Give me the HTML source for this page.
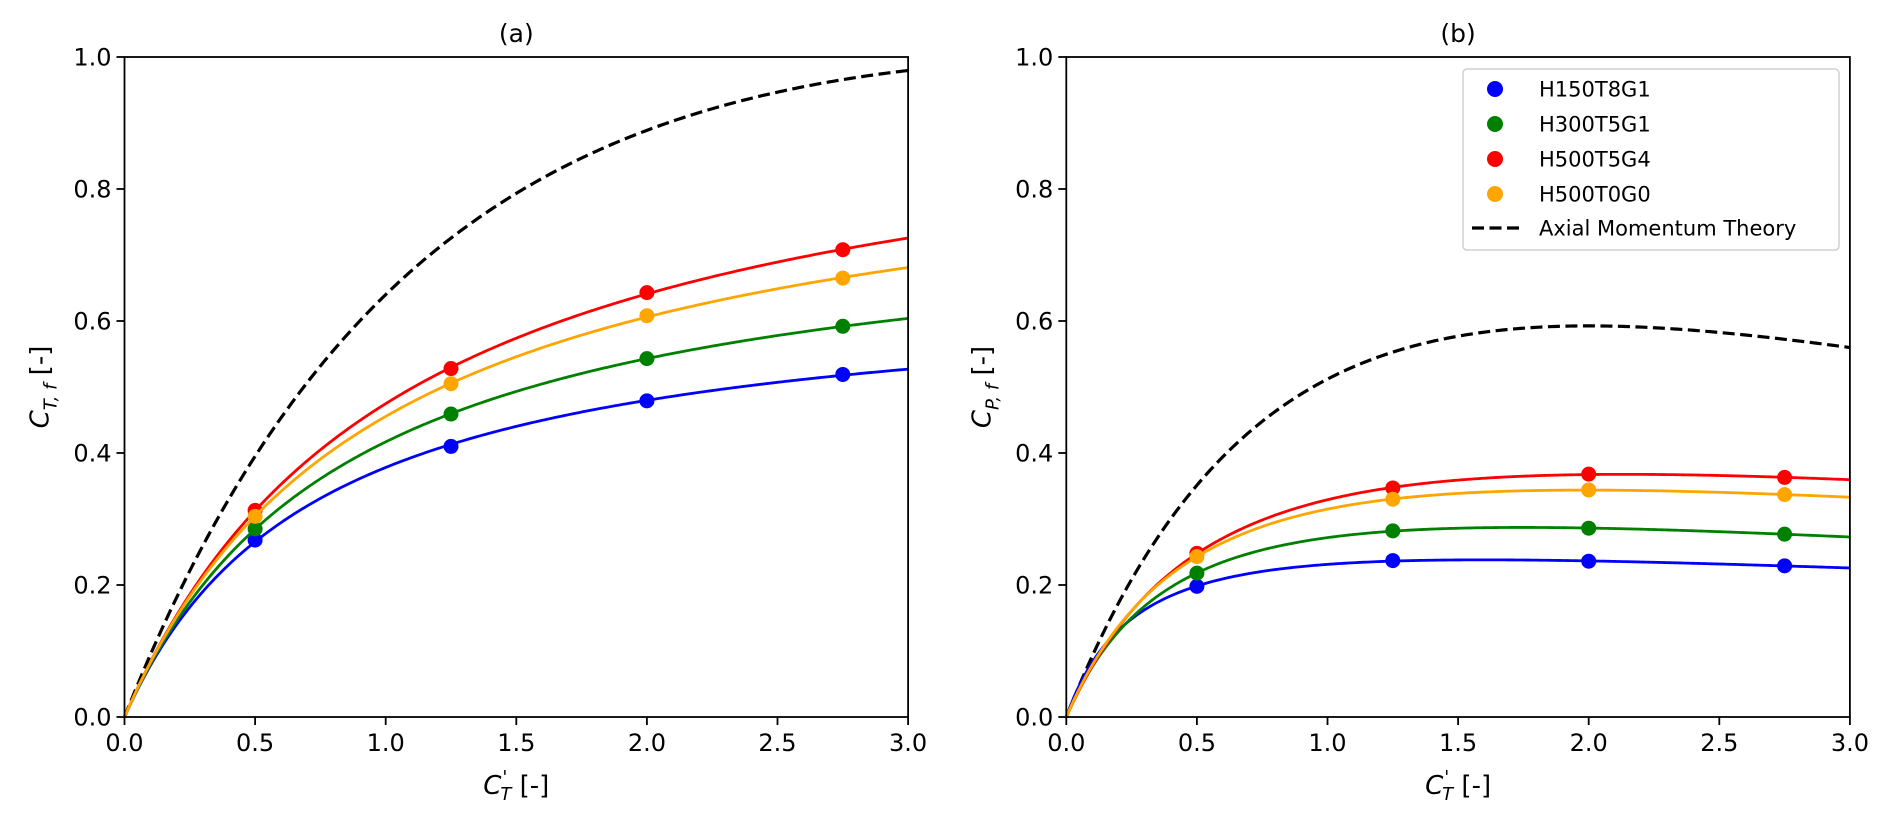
<!DOCTYPE html>
<html><head><meta charset="utf-8">
<style>
html,body{margin:0;padding:0;background:#fff;}
svg{display:block;font-family:"DejaVu Sans","Liberation Sans",sans-serif;}
</style></head>
<body>
<svg id="fig" width="1892" height="823" viewBox="0 0 1892 823" xmlns="http://www.w3.org/2000/svg"></svg>
<script>
const xs = [0.5, 1.25, 2.0, 2.75];
const seriesNames = ["H150T8G1","H300T5G1","H500T5G4","H500T0G0"];
const seriesColors = ["#0000ff","#008000","#ff0000","#ffa500"];
const ctBlue = [0.268, 0.410, 0.479, 0.519];
const ctGreen = [0.285, 0.459, 0.543, 0.592];
const ctRed = [0.313, 0.528, 0.643, 0.708];
const ctOrange = [0.304, 0.505, 0.608, 0.665];
const cpBlue = [0.198, 0.237, 0.236, 0.229];
const cpGreen = [0.218, 0.282, 0.286, 0.277];
const cpRed = [0.248, 0.347, 0.368, 0.363];
const cpOrange = [0.243, 0.330, 0.344, 0.337];
const xTicks = [0.0, 0.5, 1.0, 1.5, 2.0, 2.5, 3.0];
const yTicks = [0.0, 0.2, 0.4, 0.6, 0.8, 1.0];

const svg = document.getElementById('fig');
const NS = "http://www.w3.org/2000/svg";
function mk(tag, attrs, parent){const e=document.createElementNS(NS,tag);for(const k in attrs)e.setAttribute(k,attrs[k]);(parent||svg).appendChild(e);return e;}

function fit(ys, quad){
  const n = quad?3:2; const M=[],v=[];
  for(let i=0;i<n;i++){M.push(new Array(n).fill(0));v.push(0);}
  xs.forEach((x,k)=>{const t=x/ys[k];const b=[1,x,x*x].slice(0,n);
    for(let i=0;i<n;i++){v[i]+=b[i]*t;for(let j=0;j<n;j++)M[i][j]+=b[i]*b[j];}});
  for(let i=0;i<n;i++){for(let r=i+1;r<n;r++){const f=M[r][i]/M[i][i];for(let c=i;c<n;c++)M[r][c]-=f*M[i][c];v[r]-=f*v[i];}}
  const p=new Array(n).fill(0);
  for(let i=n-1;i>=0;i--){let s=v[i];for(let c=i+1;c<n;c++)s-=M[i][c]*p[c];p[i]=s/M[i][i];}
  return x=>x/(p[0]+p[1]*x+(n>2?p[2]*x*x:0));
}

function panel(left, title, ylabelMain, ylabelSub, data, quad, theory, legend, key){
  const right=left+783.6, top=57, bottom=717;
  const X=v=>left+(v/3)*(right-left);
  const Y=v=>bottom-v*(bottom-top);
  const g=mk('g',{});
  
  
  xTicks.forEach(t=>{
    const l=mk('line',{x1:X(t),x2:X(t),y1:bottom,y2:bottom+8,stroke:'#000','stroke-width':1.8},g);
    
    const tx=mk('text',{x:X(t),y:bottom+34,'font-size':24,'text-anchor':'middle'},g);
    tx.textContent=t.toFixed(1);
    
  });
  yTicks.forEach(t=>{
    const l=mk('line',{x1:left-8,x2:left,y1:Y(t),y2:Y(t),stroke:'#000','stroke-width':1.8},g);
    
    const tx=mk('text',{x:left-13,y:Y(t)+8.5,'font-size':24,'text-anchor':'end'},g);
    tx.textContent=t.toFixed(1);
    
  });
  let d='';
  for(let i=0;i<=300;i++){const x=3*i/300;d+=(i?'L':'M')+X(x).toFixed(2)+' '+Y(theory(x)).toFixed(2);}
  const th=mk('path',{d:d,fill:'none',stroke:'#000','stroke-width':3.2,'stroke-dasharray':'12 5.5'},g);
  
  data.forEach((ys,si)=>{
    const f=fit(ys,quad);
    let p='';
    for(let i=0;i<=300;i++){const x=3*i/300;const y=i?f(x):0;p+=(i?'L':'M')+X(x).toFixed(2)+' '+Y(y).toFixed(2);}
    const ln=mk('path',{d:p,fill:'none',stroke:seriesColors[si],'stroke-width':2.8},g);
    
    ys.forEach((y,k)=>{
      const c=mk('circle',{cx:X(xs[k]),cy:Y(y),r:7.5,fill:seriesColors[si]},g);
      
    });
  });
  const fr=mk('rect',{x:left,y:top,width:right-left,height:bottom-top,fill:'none',stroke:'#000','stroke-width':1.8},g);
  
  const tt=mk('text',{x:(left+right)/2,y:42,'font-size':25,'text-anchor':'middle'},g);
  tt.textContent=title;
  const xl=mk('text',{x:(left+right)/2,y:794,'font-size':26,'text-anchor':'middle'},g);
  xl.innerHTML='<tspan font-style="italic">C</tspan><tspan font-size="18" dy="-11" dx="1">\'</tspan><tspan font-size="18" dy="17" dx="-7" font-style="italic">T</tspan><tspan dy="-6"> [-]</tspan>';
  
  const yl=mk('text',{x:0,y:0,'font-size':26,'text-anchor':'middle',transform:`translate(${left-76},${(top+bottom)/2}) rotate(-90)`},g);
  yl.innerHTML='<tspan font-style="italic">C</tspan><tspan font-size="18" dy="8" font-style="italic">'+ylabelSub+'</tspan><tspan dy="-8"> [-]</tspan>';
  
  if(legend){
    const lg=mk('g',{},g);
    
    mk('rect',{x:1463,y:69,width:376,height:181,rx:4,fill:'#fff',stroke:'#d0d0d0','stroke-width':1.5},lg);
    seriesNames.forEach((n,i)=>{
      const yy=89+i*35;
      const c=mk('circle',{cx:1495,cy:yy,r:8,fill:seriesColors[i]},lg);
      
      const t=mk('text',{x:1539,y:yy+7.5,'font-size':21},lg);t.textContent=n;
      
    });
    const dl=mk('line',{x1:1472,x2:1520,y1:228,y2:228,stroke:'#000','stroke-width':3.2,'stroke-dasharray':'12 5.5'},lg);
    
    const t=mk('text',{x:1539,y:235.5,'font-size':21},lg);t.textContent='Axial Momentum Theory';
    
  }
}
panel(124.5,'(a)','C','T, f',[ctBlue,ctGreen,ctRed,ctOrange],false,x=>16*x/((4+x)*(4+x)),false,'ct');
panel(1066.3,'(b)','C','P, f',[cpBlue,cpGreen,cpRed,cpOrange],true,x=>64*x/Math.pow(4+x,3),true,'cp');
</script>
</body></html>
